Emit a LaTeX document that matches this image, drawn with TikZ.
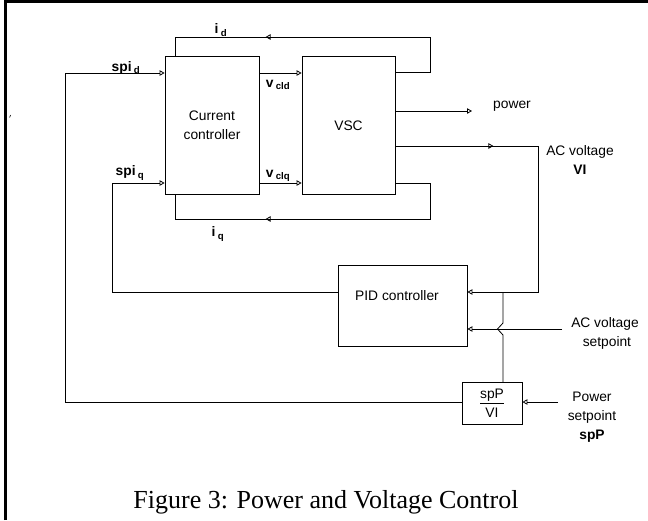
\documentclass[tikz,border=0pt]{standalone}
\usepackage{fontspec}
\setmainfont{Liberation Serif}
\setsansfont{Liberation Sans}
\usetikzlibrary{arrows.meta,decorations.markings}
\tikzset{
  block/.style={draw, line width=0.8pt, inner sep=0pt},
  wire/.style={line width=0.8pt},
  sig/.style={wire, -{Triangle[open,length=5pt,width=5.5pt]}},
  tipat/.style={postaction={decorate}, decoration={markings,
    mark=at position #1 with {\arrow{Triangle[open,length=5pt,width=5.5pt]}}}},
}
\newcommand{\sublbl}[2]{\textbf{#1}\,\textsubscript{\textbf{#2}}}
\begin{document}
\begin{tikzpicture}[x=1pt, y=-1pt, every node/.style={font=\sffamily\fontsize{13.8}{19}\selectfont}]
  \useasboundingbox (0,0) rectangle (648,520);
  \draw[line width=3pt] (5,520) -- (5,1.5) -- (648,1.5);
  \draw[line width=0.6pt] (9.6,117.5) -- (10.6,115);

  % blocks
  \node[block, minimum width=94pt, minimum height=138pt, align=center] (cc) at (212,125) {Current\\controller};
  \node[block, minimum width=93pt, minimum height=138pt] (vsc) at (348.5,125.5) {VSC};
  \node[block, minimum width=129pt, minimum height=81pt] (pid) at (402.5,305.5) {};
  \node (pidtxt) at (397,296) {PID controller};
  \node[block, minimum width=60pt, minimum height=42pt, align=center] (spv) at (492,403.5) {\underline{spP}\\VI};

  % free ends
  \coordinate (acsp) at (562,329);
  \coordinate (psp) at (558,402);

  % connectors
  \draw[sig] (spv.west |- 0,402) -| (65,73) -- (cc.west |- 0,73);
  \draw[sig] (pid.west |- 0,292) -| (112,183) -- (cc.west |- 0,183);
  \draw[sig] (cc.east |- 0,73) -- (vsc.west |- 0,73);
  \draw[sig] (cc.east |- 0,183) -- (vsc.west |- 0,183);
  \draw[wire, tipat=234pt] (vsc.east |- 0,72) -| (430,37) -| (cc.north -| 175,0);
  \draw[wire, tipat=235pt] (vsc.east |- 0,183) -| (430,219) -| (cc.south -| 175,0);
  \draw[sig] (vsc.east |- 0,111) -- (472,111) coordinate (pwr);
  \draw[sig, tipat=98pt] (vsc.east |- 0,146) -| (538,292) -- (pid.east |- 0,292);
  \draw[sig] (acsp) -- (pid.east |- acsp);
  \draw[wire] (spv.north -| 503,0) -- (503,335) -- (497.5,329) -- (503,323) -- (503,292);
  \draw[sig] (psp) -- (spv.east |- psp);

  % labels
  \node (lid) at (221,30) {\sublbl{i}{d}};
  \node (liq) at (218,234) {\sublbl{i}{q}};
  \node (lspid) at (126,68) {\sublbl{spi}{d}};
  \node (lspiq) at (130,173) {\sublbl{spi}{q}};
  \node (lvcld) at (278,85) {\sublbl{v}{cld}};
  \node (lvclq) at (278,176) {\sublbl{v}{clq}};
  \node (lpower) at (512,106) {power};
  \node[align=center] (lacv) at (580,160) {AC voltage\\\textbf{VI}};
  \node[align=center] (lacsp) at (605,333) {AC voltage\\\ setpoint};
  \node[align=center] (lpsp) at (592,417) {Power\\setpoint\\\textbf{spP}};

  \node[font=\rmfamily\fontsize{26}{30}\selectfont, anchor=base] (cap) at (326,508) {Figure 3: Power and Voltage Control};
\end{tikzpicture}
\end{document}
